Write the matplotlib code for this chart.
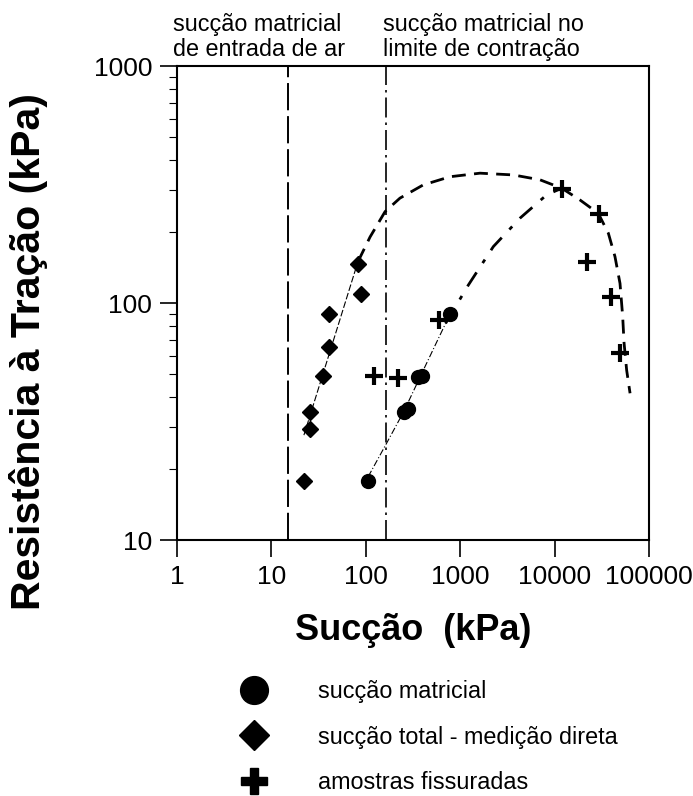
import matplotlib
matplotlib.use("Agg")
import matplotlib.pyplot as plt
from matplotlib.lines import Line2D

plt.rcParams['font.family'] = ['Liberation Sans', 'DejaVu Sans']

# --- data ---
# succao matricial (circles)
circ_x = [106, 254, 278, 360, 390, 780]
circ_y = [17.7, 34.7, 35.6, 48.9, 49.3, 90.0]
# succao total - medicao direta (diamonds)
diam_x = [22.1, 25.6, 25.6, 35.0, 40.7, 40.7, 83.0, 90.0]
diam_y = [17.7, 29.4, 34.7, 49.0, 65.5, 90.0, 146.0, 109.0]
# amostras fissuradas (plus)
plus_x = [121, 221, 590, 12000, 22000, 29500, 40000, 49500]
plus_y = [49.3, 48.2, 85.0, 303, 149, 238, 106, 61.5]

# trend curves
fit_diam_x = [22.1, 85.0]
fit_diam_y = [27.7, 155.0]
env_x = [83, 111, 160, 230, 406, 780, 1620, 3660, 7000, 11900, 18600, 29000,
         37100, 43600, 49300, 52600, 54400, 58000, 63000]
env_y = [150, 190, 243, 277, 315, 341, 353, 347, 331, 305, 272, 239,
         197, 157, 121, 88, 68, 52, 41.6]
fit_circ_x = [106, 166, 254, 406, 700]
fit_circ_y = [18.5, 25.6, 35.0, 52.0, 82.0]
trend_circ_x = [700, 1219, 2245, 4300, 8240, 11900]
trend_circ_y = [82.0, 119, 173, 228, 286, 305]

# reference lines
air_entry = 15
shrink_limit = 165

xtick_vals = [1, 10, 100, 1000, 10000, 100000]
ytick_vals = [10, 100, 1000]

fig = plt.figure(figsize=(6.93, 7.96), dpi=100)
ax = fig.add_axes([177/693, 1-540/796, (649-177)/693, (540-66)/796])
ax.set_xscale('log')
ax.set_yscale('log')
ax.set_xlim(1, 100000)
ax.set_ylim(10, 1000)

ax.axvline(air_entry, color='black', lw=1.4, dashes=(14, 3))
ax.axvline(shrink_limit, color='black', lw=1.2, dashes=(12, 3, 1.5, 3))

ax.plot(fit_diam_x, fit_diam_y, color='black', lw=0.8, dashes=(6, 2))
ax.plot(env_x, env_y, color='black', lw=2.0, dashes=(5, 3))
ax.plot(fit_circ_x, fit_circ_y, color='black', lw=0.8, dashes=(6, 2, 1, 2))
ax.plot(trend_circ_x, trend_circ_y, color='black', lw=2.0, dashes=(6, 4, 1.5, 4))

ax.plot(circ_x, circ_y, 'o', color='black', ms=10, ls='none')
ax.plot(diam_x, diam_y, 'D', color='black', ms=8.5, ls='none')
ax.plot(plus_x, plus_y, '+', color='black', ms=13, mew=3, ls='none')

ax.set_xticks(xtick_vals)
ax.set_xticklabels([str(v) for v in xtick_vals])
ax.set_yticks(ytick_vals)
ax.set_yticklabels([str(v) for v in ytick_vals])
ax.tick_params(which='major', direction='out', length=12, width=1.2, labelsize=19, pad=6)
ax.tick_params(which='minor', direction='out', length=6, width=0.8)
ax.tick_params(top=False, right=False, which='both')
for s in ax.spines.values():
    s.set_linewidth(1.5)

ax.set_xlabel('Sucção  (kPa)', fontsize=26, fontweight='bold', labelpad=17)
ax.set_ylabel('Resistência à Tração (kPa)', fontsize=29.5, fontweight='bold')
ax.yaxis.set_label_coords((48-177)/472, (540-352)/474)

fig.text(173/693, 1-13/796, 'sucção matricial\nde entrada de ar', fontsize=16.8,
         va='top', ha='left', linespacing=1.1)
fig.text(383/693, 1-13/796, 'sucção matricial no\nlimite de contração', fontsize=16.8,
         va='top', ha='left', linespacing=1.1)

handles = [
    Line2D([], [], marker='o', color='black', ls='none', ms=20),
    Line2D([], [], marker='D', color='black', ls='none', ms=15),
    Line2D([], [], marker='P', color='black', ls='none', ms=19),
]
labels = ['sucção matricial', 'sucção total - medição direta', 'amostras fissuradas']
fig.legend(handles, labels, loc='upper left', bbox_to_anchor=(232/693, 1-680/796),
           frameon=False, fontsize=16.8, handlelength=1.9, handletextpad=1.8,
           labelspacing=0.97, borderpad=0, borderaxespad=0)

fig.savefig('out.png', dpi=100)
